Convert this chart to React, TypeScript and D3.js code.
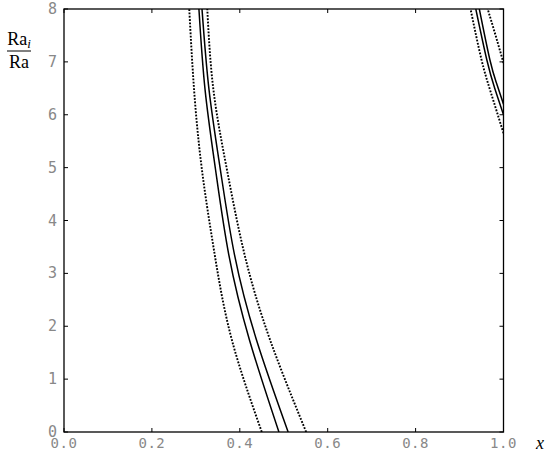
import React from "react";
import * as d3 from "d3";

const RA_LEFT = [0, 1.74, 3.35, 4.95, 6.47, 8];
const LEFT_DOT_A = [0.45, 0.382, 0.343, 0.314, 0.296, 0.285];
const LEFT_SOLID_A = [0.489, 0.422, 0.375, 0.345, 0.321, 0.307];
const LEFT_SOLID_B = [0.51, 0.438, 0.388, 0.356, 0.33, 0.314];
const LEFT_DOT_B = [0.551, 0.469, 0.411, 0.371, 0.34, 0.326];

// right-hand branch (leaves the frame at x = 1)
const RIGHT_DOT_A = { ra: [5.65, 6.4, 7.04, 8], x: [1.0, 0.972, 0.95, 0.925] };
const RIGHT_SOLID_A = { ra: [6.0, 6.5, 7.04, 8], x: [1.0, 0.98, 0.962, 0.937] };
const RIGHT_SOLID_B = { ra: [6.2, 6.6, 7.04, 8], x: [1.0, 0.984, 0.969, 0.945] };
const RIGHT_DOT_B = { ra: [6.98, 7.5, 8], x: [1.0, 0.982, 0.964] };

const X_TICKS = [0, 0.2, 0.4, 0.6, 0.8, 1.0];
const Y_TICKS = [0, 1, 2, 3, 4, 5, 6, 7, 8];

const W = 550;
const H = 457;
const margin = { top: 9, right: 46.5, bottom: 25, left: 64 };

export default function App() {
  const innerW = W - margin.left - margin.right;
  const innerH = H - margin.top - margin.bottom;

  const x = d3.scaleLinear().domain([0, 1]).range([0, innerW]);
  const y = d3.scaleLinear().domain([0, 8]).range([innerH, 0]);

  const line = d3
    .line<[number, number]>()
    .x((d) => x(d[0]))
    .y((d) => y(d[1]))
    .curve(d3.curveNatural);

  const zip = (xs: number[], ras: number[]) =>
    xs.map((v, i) => [v, ras[i]] as [number, number]);

  const curves = [
    { pts: zip(LEFT_DOT_A, RA_LEFT), dotted: true },
    { pts: zip(LEFT_SOLID_A, RA_LEFT), dotted: false },
    { pts: zip(LEFT_SOLID_B, RA_LEFT), dotted: false },
    { pts: zip(LEFT_DOT_B, RA_LEFT), dotted: true },
    { pts: zip(RIGHT_DOT_A.x, RIGHT_DOT_A.ra), dotted: true },
    { pts: zip(RIGHT_SOLID_A.x, RIGHT_SOLID_A.ra), dotted: false },
    { pts: zip(RIGHT_SOLID_B.x, RIGHT_SOLID_B.ra), dotted: false },
    { pts: zip(RIGHT_DOT_B.x, RIGHT_DOT_B.ra), dotted: true },
  ];

  const tickLen = 4;
  const tickFont = "'DejaVu Sans Mono', monospace";

  return (
    <svg
      width={W}
      height={H}
      style={{ position: "absolute", left: 0, top: 0, background: "#fff" }}
    >
      <defs>
        <clipPath id="plot-clip">
          <rect width={innerW} height={innerH} />
        </clipPath>
      </defs>
      <g transform={`translate(${margin.left},${margin.top})`}>
        <g clipPath="url(#plot-clip)">
          {curves.map((c, i) => (
            <path
              key={i}
              d={line(c.pts) || ""}
              fill="none"
              stroke="#000"
              strokeWidth={c.dotted ? 1.9 : 1.5}
              strokeDasharray={c.dotted ? "1.8,1.5" : undefined}
            />
          ))}
        </g>

        {/* ticks on all four sides, pointing inward */}
        {X_TICKS.map((t) => (
          <g key={"x" + t}>
            <line x1={x(t)} x2={x(t)} y1={innerH} y2={innerH - tickLen} stroke="#000" />
            <line x1={x(t)} x2={x(t)} y1={0} y2={tickLen} stroke="#000" />
            <text
              x={x(t)}
              y={innerH + 16}
              textAnchor="middle"
              fontFamily={tickFont}
              fontSize={14}
              letterSpacing={0.5}
              fill="#888"
            >
              {t.toFixed(1)}
            </text>
          </g>
        ))}
        {Y_TICKS.map((t) => (
          <g key={"y" + t}>
            <line x1={0} x2={tickLen} y1={y(t)} y2={y(t)} stroke="#000" />
            <line x1={innerW} x2={innerW - tickLen} y1={y(t)} y2={y(t)} stroke="#000" />
            <text
              x={-7}
              y={y(t) + 5}
              textAnchor="end"
              fontFamily={tickFont}
              fontSize={15}
              fill="#888"
            >
              {t}
            </text>
          </g>
        ))}

        <rect width={innerW} height={innerH} fill="none" stroke="#000" strokeWidth={1.3} />
      </g>

      {/* axis titles */}
      <g fontFamily="'Liberation Serif', serif" fontSize={18} fill="#000">
        <text x={19} y={45} textAnchor="middle">
          Ra<tspan fontStyle="italic" fontSize={13} dy={3}>i</tspan>
        </text>
        <line x1={7} x2={31} y1={51} y2={51} stroke="#000" strokeWidth={1} />
        <text x={19} y={68} textAnchor="middle">Ra</text>
        <text x={540} y={449} textAnchor="middle" fontStyle="italic">x</text>
      </g>
    </svg>
  );
}
